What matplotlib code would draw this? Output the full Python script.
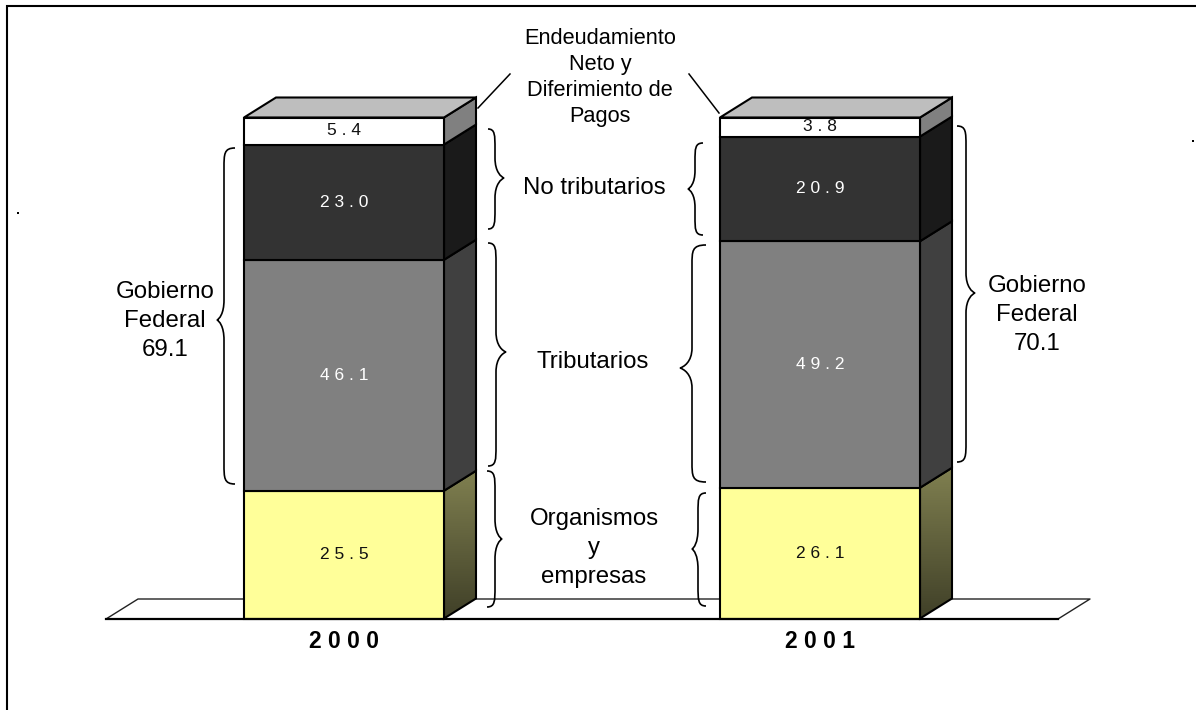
import numpy as np
import matplotlib
matplotlib.use("Agg")
import matplotlib.pyplot as plt
from matplotlib.patches import Polygon, PathPatch
from matplotlib.path import Path
from matplotlib.transforms import Affine2D

# ---------- data ----------
years = ["2000", "2001"]
organismos = [25.5, 26.1]
tributarios = [46.1, 49.2]
no_tributarios = [23.0, 20.9]
endeudamiento = [5.4, 3.8]
gobierno_federal = [69.1, 70.1]

series_values = [organismos, tributarios, no_tributarios, endeudamiento]
front_colors = ["#FFFF99", "#808080", "#333333", "#FFFFFF"]
side_colors = [None, "#404040", "#1A1A1A", "#808080"]
top_color = "#BEBEBE"
value_colors = ["#111111", "white", "white", "#111111"]

W, H = 1196, 710
PX_PER_UNIT = 5.01
BASE_PX = 618.5

plt.rcParams["font.family"] = ["Liberation Sans", "DejaVu Sans"]
fig = plt.figure(figsize=(W / 100, H / 100), dpi=100, facecolor="white")
ax = fig.add_axes([0, 0, 1, 1])
ax.set_xlim(0, W)
ax.set_ylim(-(H - BASE_PX) / PX_PER_UNIT, BASE_PX / PX_PER_UNIT)
ax.axis("off")

# pixel coordinates (origin top-left) for furniture
px = Affine2D().scale(1, -1).translate(0, H)

LW = 1.5
centers = [344, 820]
bar_w = 200
dx = 32
dy = 20 / PX_PER_UNIT

# frame and stray marks
ax.plot([6.5, 6.5, W], [H, 5.5, 5.5], color="black", lw=1.5, transform=px,
        solid_joinstyle="miter", clip_on=False)
ax.plot([18, 1193], [213, 141], ls="none", marker="s", ms=1.5, mew=0, color="black", transform=px)

# floor
ax.add_patch(Polygon([(106, 619), (138, 599), (1090, 599), (1058, 619)], closed=True,
                     fc="white", ec="none", transform=px, zorder=1))
ax.plot([106, 138, 1090, 1058], [619, 599, 599, 619], color="#222222", lw=1.0, transform=px, zorder=1.2)
ax.plot([106, 1058], [619, 619], color="black", lw=1.6, transform=px, zorder=5)

# bars
for i, c in enumerate(centers):
    bottom = 0.0
    x0, x1 = c - bar_w / 2, c + bar_w / 2
    for s, vals in enumerate(series_values):
        v = vals[i]
        ax.bar(c, v, width=bar_w, bottom=bottom, color=front_colors[s],
               edgecolor="black", linewidth=LW, zorder=3)
        side = Polygon([(x1, bottom), (x1 + dx, bottom + dy), (x1 + dx, bottom + v + dy), (x1, bottom + v)],
                       closed=True, zorder=2.9,
                       fc=side_colors[s] if side_colors[s] else "none", ec="black", lw=LW)
        ax.add_patch(side)
        if side_colors[s] is None:
            grad = np.linspace(0, 1, 64)[:, None, None]
            top_c = np.array([0x80, 0x80, 0x50])[None, None, :] / 255
            bot_c = np.array([0x40, 0x40, 0x28])[None, None, :] / 255
            img = top_c * (1 - grad) + bot_c * grad
            im = ax.imshow(img, extent=(x1, x1 + dx, bottom, bottom + v + dy), aspect="auto",
                           origin="upper", zorder=2.8)
            im.set_clip_path(side)
        label_y = bottom + v / 2 + (0.2 if s == 3 else 0)
        ax.text(c, label_y, " ".join(f"{v:.1f}"), ha="center", va="center",
                fontsize=12.5, color=value_colors[s], zorder=6)
        bottom += v
    # top face
    ax.add_patch(Polygon([(x0, bottom), (x0 + dx, bottom + dy), (x1 + dx, bottom + dy), (x1, bottom)],
                         closed=True, fc=top_color, ec="black", lw=LW, zorder=2.9))
    ax.text(c, -(641 - BASE_PX) / PX_PER_UNIT, " ".join(years[i]), ha="center", va="center",
            fontsize=16.5, fontweight="bold", color="black")


def brace(x_end, x_spine, x_tip, y0, y1, y_tip):
    """Curly brace in pixel coordinates."""
    r = min(20, (y1 - y0) / 5)
    sp = x_spine
    verts = [(x_end, y0),
             (sp, y0), (sp, y0 + r * .3), (sp, y0 + r),
             (sp, y_tip - r),
             (sp, y_tip - r * .3), (x_tip - (x_tip - sp) * .3, y_tip - 1), (x_tip, y_tip),
             (x_tip - (x_tip - sp) * .3, y_tip + 1), (sp, y_tip + r * .3), (sp, y_tip + r),
             (sp, y1 - r),
             (sp, y1 - r * .3), (sp, y1), (x_end, y1)]
    codes = [Path.MOVETO,
             Path.CURVE4, Path.CURVE4, Path.CURVE4,
             Path.LINETO,
             Path.CURVE4, Path.CURVE4, Path.CURVE4,
             Path.CURVE4, Path.CURVE4, Path.CURVE4,
             Path.LINETO,
             Path.CURVE4, Path.CURVE4, Path.CURVE4]
    ax.add_patch(PathPatch(Path(verts, codes), fc="none", ec="black", lw=1.2, transform=px, zorder=4))


brace(235, 224, 217, 148, 484, 320)
brace(488, 495, 504, 129, 229, 178)
brace(488, 496, 506, 243, 466, 352)
brace(487, 495, 502, 471, 607, 539)
brace(703, 695, 688, 143, 235, 189)
brace(706, 692, 680, 245, 482, 368)
brace(706, 698, 692, 493, 606, 549)
brace(957, 966, 975, 126, 462, 293)

# leader lines
ax.plot([478, 510], [108, 74], color="black", lw=1.1, transform=px, zorder=4)
ax.plot([689, 719], [74, 113], color="black", lw=1.1, transform=px, zorder=4)

# annotation labels
LBL = 17.3
SMALL = 15.7
ax.text(600, 77.5, "Endeudamiento\nNeto y\nDiferimiento de\nPagos", transform=px, ha="center", va="center",
        fontsize=SMALL, linespacing=1.32)
ax.text(594, 188, "No tributarios", transform=px, ha="center", va="center", fontsize=LBL)
ax.text(593, 362, "Tributarios", transform=px, ha="center", va="center", fontsize=LBL)
ax.text(594, 548, "Organismos\ny\nempresas", transform=px, ha="center", va="center", fontsize=LBL, linespacing=1.43)
ax.text(165, 321, f"Gobierno\nFederal\n{gobierno_federal[0]}", transform=px, ha="center", va="center",
        fontsize=LBL, linespacing=1.43)
ax.text(1037, 315, f"Gobierno\nFederal\n{gobierno_federal[1]}", transform=px, ha="center", va="center",
        fontsize=LBL, linespacing=1.43)

fig.savefig("out.png", dpi=100, facecolor="white")
